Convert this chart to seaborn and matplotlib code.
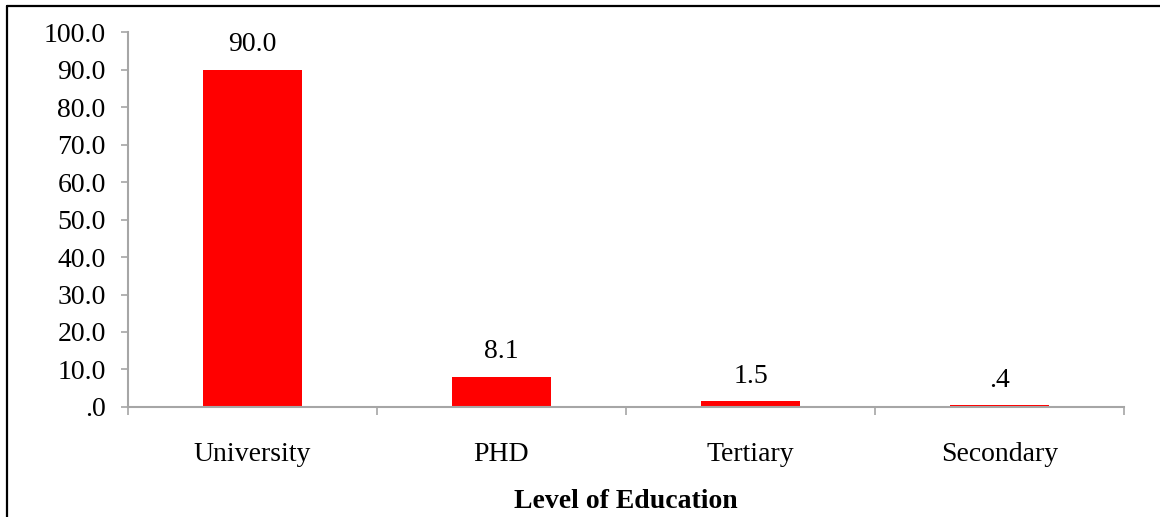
import matplotlib
matplotlib.use("Agg")
import matplotlib.pyplot as plt
from matplotlib.lines import Line2D
from matplotlib.ticker import FuncFormatter, FixedLocator
import seaborn as sns
import pandas as pd

# Share of respondents by level of education (%)
levels = ["University", "PHD", "Tertiary", "Secondary"]
shares = [90.0, 8.1, 1.5, 0.4]
y_ticks = [0, 10, 20, 30, 40, 50, 60, 70, 80, 90, 100]

sns.set_theme(style="white")
plt.rcParams["font.family"] = ["Liberation Serif", "DejaVu Serif"]


def fmt(v, pos=None):
    s = f"{v:.1f}"
    if s.startswith("0."):
        s = s[1:]
    return s


df = pd.DataFrame({"level": levels, "share": shares})

fig = plt.figure(figsize=(11.6, 5.17), dpi=100)
fig.patch.set_facecolor("white")
ax = fig.add_axes([0.1103, 0.2128, 0.969 - 0.1103, 0.938 - 0.2128])

sns.barplot(data=df, x="level", y="share", color="#FF0000", saturation=1,
            width=0.4, edgecolor="none", ax=ax)

ax.set_xlim(-0.5, len(levels) - 0.5)
ax.set_ylim(0, 100)
ax.yaxis.set_major_locator(FixedLocator(y_ticks))
ax.yaxis.set_major_formatter(FuncFormatter(fmt))

axis_grey = "#A6A6A6"
for side in ("top", "right"):
    ax.spines[side].set_visible(False)
for side in ("left", "bottom"):
    ax.spines[side].set_color(axis_grey)
    ax.spines[side].set_linewidth(1.5)
    ax.spines[side].set_zorder(3)

ax.tick_params(axis="y", which="major", length=5, width=1.2, color=axis_grey,
               direction="out", left=True, pad=11, labelsize=20, labelcolor="black")
# category labels centred under bars, tick marks between categories
ax.tick_params(axis="x", which="major", length=0, pad=25, labelsize=20,
               labelcolor="black")
ax.set_xticks([i - 0.5 for i in range(len(levels) + 1)], minor=True)
ax.tick_params(axis="x", which="minor", length=6, width=1.2, color=axis_grey,
               direction="out", bottom=True)

ax.set_ylabel("")
ax.set_xlabel("Level of Education", fontsize=20, fontweight="bold",
              labelpad=16, color="black")

for i, v in enumerate(shares):
    ax.annotate(fmt(v), xy=(i, v), xytext=(0, 9), textcoords="offset points",
                ha="center", va="bottom", fontsize=20, color="black")

ax.grid(False)

# frame around the chart area
fig.add_artist(Line2D([0.0063, 0.0063], [0.0, 0.9875], transform=fig.transFigure,
                      color="black", linewidth=1.6))
fig.add_artist(Line2D([0.0063, 1.0], [0.9875, 0.9875], transform=fig.transFigure,
                      color="black", linewidth=1.6))

fig.savefig("out.png", dpi=100, facecolor="white")
